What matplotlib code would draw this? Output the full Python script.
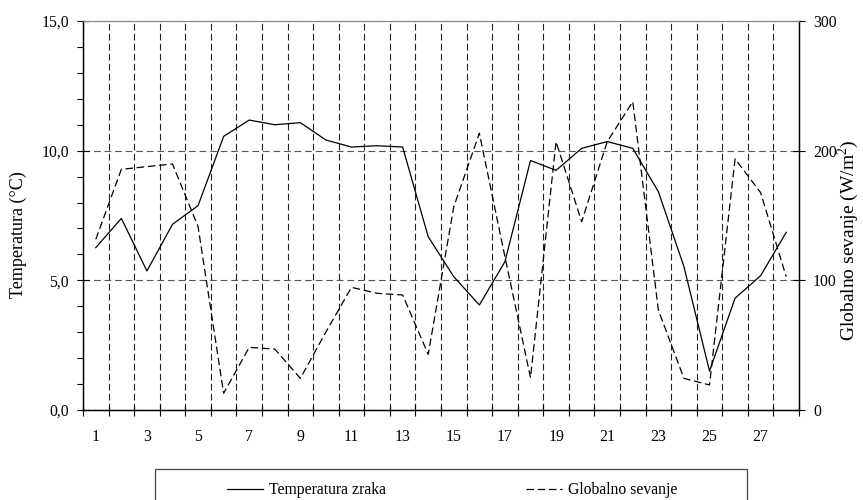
import numpy as np
import matplotlib
matplotlib.use('Agg')
import matplotlib.pyplot as plt
from matplotlib.patches import Rectangle
from matplotlib.ticker import FixedLocator, FuncFormatter

plt.rcParams['font.family'] = ['Liberation Serif', 'DejaVu Serif']
plt.rcParams['font.size'] = 11.3
plt.rcParams['mathtext.fontset'] = 'custom'
plt.rcParams['mathtext.rm'] = 'Liberation Serif'

# day of month
days = np.arange(1, 29)
# air temperature (°C)
temperatura = [6.26, 7.39, 5.36, 7.16, 7.88, 10.55, 11.18, 11.00, 11.08, 10.41,
               10.14, 10.19, 10.14, 6.68, 5.14, 4.05, 5.72, 9.62, 9.24, 10.09,
               10.35, 10.09, 8.42, 5.53, 1.50, 4.31, 5.18, 6.85]
# global radiation (W/m2)
sevanje = [131.6, 185.6, 187.7, 189.7, 141.4, 12.9, 48.3, 47.0, 24.4, 60.2,
           94.6, 90.0, 88.7, 42.9, 156.8, 213.4, 118.2, 24.9, 206.9, 145.2,
           206.9, 237.8, 77.1, 24.4, 19.3, 193.7, 167.6, 102.8]
x_labels = [str(d) for d in range(1, 28, 2)]

fig = plt.figure(figsize=(8.63, 5.0), dpi=100)
ax = fig.add_axes([83 / 863, 90 / 500, 716 / 863, 389 / 500])
ax2 = ax.twinx()

# temperature (left axis)
l1, = ax.plot(days, temperatura, color='black', lw=0.9, label='Temperatura zraka')
# radiation (right axis)
l2, = ax2.plot(days, sevanje, color='black', lw=0.9, dashes=(6, 3), label='Globalno sevanje')

ax.set_xlim(0.5, 28.5)
ax.set_ylim(0, 15)
ax2.set_ylim(0, 300)

# x axis: ticks/grid at day boundaries, labels on odd days
ax.xaxis.set_major_locator(FixedLocator(np.arange(0.5, 29, 1)))
ax.xaxis.set_major_formatter(FuncFormatter(lambda v, p: ''))
ax.xaxis.set_minor_locator(FixedLocator(np.arange(1, 28, 2)))
ax.set_xticklabels(x_labels, minor=True)
ax.tick_params(axis='x', which='major', direction='inout', length=8, width=0.8)
ax.tick_params(axis='x', which='minor', length=0, pad=14)

# left y axis
ax.set_yticks([0, 5, 10, 15])
ax.set_yticks(np.arange(0, 16, 1), minor=True)
ax.yaxis.set_major_formatter(FuncFormatter(lambda v, p: f'{v:.1f}'.replace('.', ',')))
ax.tick_params(axis='y', which='major', direction='inout', length=8, width=0.8, pad=6)
ax.tick_params(axis='y', which='minor', direction='out', length=4, width=0.8)

# right y axis
ax2.set_yticks([0, 100, 200, 300])
ax2.tick_params(axis='y', direction='inout', length=8, width=0.8, pad=6)

# axis titles
fig.text(18 / 863, 1 - 235 / 500, 'Temperatura (°C)', rotation=90,
         ha='center', va='center', fontsize=13)
fig.text(848 / 863, 1 - 240 / 500, 'Globalno sevanje (W/m$^2$)', rotation=90,
         ha='center', va='center', fontsize=14)

# grid lines
ax.grid(axis='x', which='major', color='#222222', lw=0.8, dashes=(6, 3))
ax.grid(axis='y', which='major', color='#555555', lw=0.8, dashes=(6, 3.5))

for a in (ax, ax2):
    a.spines['top'].set_color('#888888')
    a.spines['top'].set_linewidth(0.8)
    a.spines['left'].set_linewidth(0.9)
    a.spines['bottom'].set_linewidth(0.9)
    a.spines['right'].set_linewidth(0.9)

# legend box (runs off the bottom edge)
box = Rectangle((155 / 863, -0.05), 592 / 863, 0.05 + 31 / 500,
                transform=fig.transFigure, fill=False, edgecolor='#444444', lw=0.9)
fig.patches.append(box)
fig.legend(handles=[l1, l2], loc='center', bbox_to_anchor=(452 / 863, 10 / 500),
           ncol=2, frameon=False, handlelength=2.3, handletextpad=0.4,
           columnspacing=8.9, fontsize=11.3)

fig.savefig('out.png', dpi=100)
